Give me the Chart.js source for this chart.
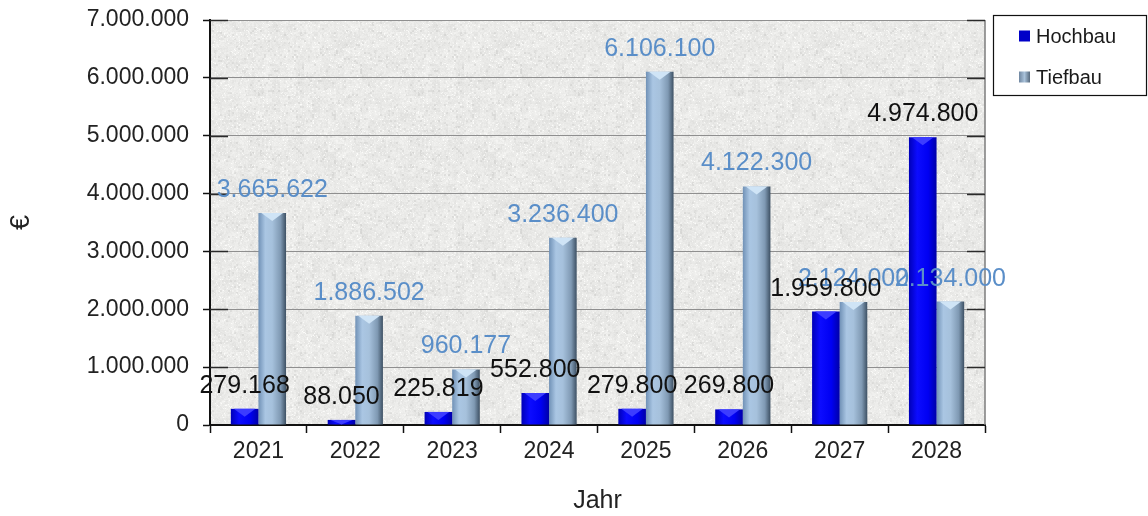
<!DOCTYPE html>
<html lang="de">
<head>
<meta charset="utf-8">
<title>Investitionen Hochbau / Tiefbau 2021–2028</title>
<script src="https://cdn.jsdelivr.net/npm/chart.js@4/dist/chart.umd.min.js"></script>
<style>
  html, body { margin: 0; padding: 0; background: #fff; }
  #wrap { width: 1148px; height: 516px; position: relative; }
</style>
</head>
<body>
<div id="wrap"><canvas id="chart" width="1148" height="516"></canvas></div>
<script>
// Jahre und Beträge in Euro
const years = ['2021', '2022', '2023', '2024', '2025', '2026', '2027', '2028'];
const hochbau = [279168, 88050, 225819, 552800, 279800, 269800, 1959800, 4974800];
const tiefbau = [3665622, 1886502, 960177, 3236400, 6106100, 4122300, 2124000, 2134000];
const seriesNames = ['Hochbau', 'Tiefbau'];
const yMin = 0;
const yMax = 7000000;
const yStep = 1000000;

const FONT = "'Liberation Sans', Arial, Helvetica, sans-serif";
const CAT_PCT = 0.57;

function fmt(v) {
  return String(Math.round(v)).replace(/\B(?=(\d{3})+(?!\d))/g, '.');
}

// Granit-ähnliche Füllung der Zeichenfläche
function makeStoneTexture() {
  const size = 160;
  const c = document.createElement('canvas');
  c.width = size; c.height = size;
  const g = c.getContext('2d');
  const img = g.createImageData(size, size);
  const hash = (x, y, s) => {
    let n = Math.imul(x + s * 131, 374761393) ^ Math.imul(y + s * 71, 668265263);
    n = Math.imul(n ^ (n >>> 13), 1274126177);
    return ((n ^ (n >>> 16)) >>> 0) / 4294967296;
  };
  for (let y = 0; y < size; y++) {
    for (let x = 0; x < size; x++) {
      const a = hash(x, y, 1);
      const b = hash(x >> 1, y >> 1, 2);
      const d = hash(x >> 3, y >> 3, 3);
      let v = 234 + (a - 0.5) * 8 + (b - 0.5) * 10 + (d - 0.5) * 8;
      if (b > 0.94) v -= 18;
      if (a > 0.96) v += 12;
      v = Math.max(190, Math.min(252, v));
      const i = (y * size + x) * 4;
      img.data[i] = v; img.data[i + 1] = v; img.data[i + 2] = v - 2; img.data[i + 3] = 255;
    }
  }
  g.putImageData(img, 0, 0);
  return c;
}

const stone = makeStoneTexture();

function barLeft(chart, dataIndex, datasetIndex) {
  const xs = chart.scales.x;
  const cat = (xs.right - xs.left) / years.length;
  const bw = cat * CAT_PCT / 2;
  const center = xs.getPixelForValue(dataIndex);
  return { left: center - bw + datasetIndex * bw, width: bw };
}

const gradStops = [
  [[0, '#0000b8'], [0.3, '#0c0cff'], [0.7, '#0000f2'], [1, '#0000a8']],
  [[0, '#7091b6'], [0.25, '#aac6e3'], [0.5, '#a6c1dc'], [0.8, '#7f99b3'], [1, '#3d5063']]
];

function barFill(ctx) {
  const chart = ctx.chart;
  const ds = ctx.datasetIndex;
  if (!chart.chartArea || ctx.dataIndex === undefined) return gradStops[ds][1][1];
  const { left, width } = barLeft(chart, ctx.dataIndex, ds);
  const g = chart.ctx.createLinearGradient(left, 0, left + width, 0);
  gradStops[ds].forEach(s => g.addColorStop(s[0], s[1]));
  return g;
}

const plotFrame = {
  id: 'plotFrame',
  beforeDraw(chart) {
    const { ctx, chartArea: a } = chart;
    ctx.save();
    ctx.fillStyle = ctx.createPattern(stone, 'repeat');
    ctx.fillRect(a.left, a.top, a.right - a.left, a.bottom - a.top);
    ctx.restore();
  },
  beforeDatasetsDraw(chart) {
    const { ctx, chartArea: a, scales: { y } } = chart;
    ctx.save();
    // Randlinie rechts
    ctx.strokeStyle = '#7d7d7d';
    ctx.lineWidth = 1.5;
    ctx.beginPath();
    ctx.moveTo(a.right, a.top);
    ctx.lineTo(a.right, a.bottom);
    ctx.stroke();
    // dunkle Enden der Gitterlinien
    ctx.strokeStyle = '#2a2a2a';
    ctx.lineWidth = 1.5;
    y.ticks.forEach(t => {
      if (t.value === 0) return;
      const py = Math.round(y.getPixelForValue(t.value)) + 0.5;
      ctx.beginPath();
      ctx.moveTo(a.left, py); ctx.lineTo(a.left + 18, py);
      ctx.moveTo(a.right - 18, py); ctx.lineTo(a.right, py);
      ctx.stroke();
    });
    ctx.restore();
  }
};

const barCaps = {
  id: 'barCaps',
  afterDatasetsDraw(chart) {
    const ctx = chart.ctx;
    const capCol = ['#3c3cff', '#cfe4f6'];
    ctx.save();
    chart.data.datasets.forEach((d, di) => {
      chart.getDatasetMeta(di).data.forEach(el => {
        const h = Math.min(8, el.base - el.y);
        if (h <= 0) return;
        const w = el.width;
        ctx.fillStyle = capCol[di];
        ctx.beginPath();
        ctx.moveTo(el.x - w / 2 + 3, el.y);
        ctx.lineTo(el.x + w / 2 - 3, el.y);
        ctx.lineTo(el.x, el.y + h);
        ctx.closePath();
        ctx.fill();
      });
    });
    ctx.restore();
  }
};

const valueLabels = {
  id: 'valueLabels',
  afterDatasetsDraw(chart) {
    const ctx = chart.ctx;
    const colors = ['#111111', '#5a8ec8'];
    ctx.save();
    ctx.font = '25px ' + FONT;
    ctx.textAlign = 'center';
    ctx.textBaseline = 'alphabetic';
    [1, 0].forEach(di => {
      const meta = chart.getDatasetMeta(di);
      ctx.fillStyle = colors[di];
      meta.data.forEach((el, i) => {
        const v = chart.data.datasets[di].data[i];
        ctx.fillText(fmt(v), el.x, el.y - 16);
      });
    });
    ctx.restore();
  }
};

const boxLegend = {
  id: 'boxLegend',
  afterDraw(chart) {
    const ctx = chart.ctx;
    ctx.save();
    ctx.strokeStyle = '#111';
    ctx.lineWidth = 1.2;
    ctx.strokeRect(993.5, 15.5, 153, 80);
    ctx.font = '20px ' + FONT;
    ctx.textBaseline = 'middle';
    ctx.textAlign = 'left';
    const rows = [36, 77];
    chart.data.datasets.forEach((d, di) => {
      const yc = rows[di];
      const x0 = 1019, sz = 11;
      if (di === 0) {
        ctx.fillStyle = '#0000c8';
      } else {
        const g = ctx.createLinearGradient(x0, 0, x0 + sz, 0);
        g.addColorStop(0, '#6f86a0'); g.addColorStop(0.5, '#a9c2da'); g.addColorStop(1, '#56697c');
        ctx.fillStyle = g;
      }
      ctx.fillRect(x0, yc - sz / 2, sz, sz);
      ctx.fillStyle = '#1a1a1a';
      ctx.fillText(d.label, 1036, yc + 1);
    });
    ctx.restore();
  }
};

new Chart(document.getElementById('chart'), {
  type: 'bar',
  data: {
    labels: years,
    datasets: [
      { label: seriesNames[0], data: hochbau, backgroundColor: barFill, borderWidth: 0,
        barPercentage: 1.0, categoryPercentage: CAT_PCT },
      { label: seriesNames[1], data: tiefbau, backgroundColor: barFill, borderWidth: 0,
        barPercentage: 1.0, categoryPercentage: CAT_PCT }
    ]
  },
  options: {
    responsive: false,
    animation: false,
    devicePixelRatio: 1,
    layout: { padding: { left: 0, right: 163, top: 20, bottom: 0 } },
    plugins: {
      legend: { display: false },
      tooltip: { enabled: false }
    },
    scales: {
      x: {
        grid: { display: true, drawOnChartArea: false, drawTicks: true, tickLength: 8,
                tickColor: '#111', tickWidth: 1.5, offset: true },
        border: { display: true, color: '#111', width: 2 },
        ticks: { color: '#222', font: { family: FONT, size: 23 }, padding: 5, maxRotation: 0 },
        title: { display: true, text: 'Jahr', color: '#222',
                 font: { family: FONT, size: 25 }, padding: { top: 0, bottom: 0 } },
        afterFit(scale) { scale.height = 91; }
      },
      y: {
        min: yMin, max: yMax,
        grid: { color: '#8f8f8f', lineWidth: 1, drawTicks: true, tickLength: 7,
                tickColor: '#111', tickWidth: 1.5 },
        border: { display: true, color: '#111', width: 2 },
        ticks: { stepSize: yStep, color: '#222', font: { family: FONT, size: 23 }, padding: 14,
                 callback: v => fmt(v) },
        title: { display: true, text: '€', color: '#222',
                 font: { family: FONT, size: 27 }, padding: { top: 5, bottom: 0 } },
        afterFit(scale) {
          scale.width = 210;
          // nur die halbe Schrifthöhe als Überstand oben/unten
          scale.paddingTop = 14;
          scale.paddingBottom = 14;
        }
      }
    }
  },
  plugins: [plotFrame, barCaps, valueLabels, boxLegend]
});
</script>
</body>
</html>
